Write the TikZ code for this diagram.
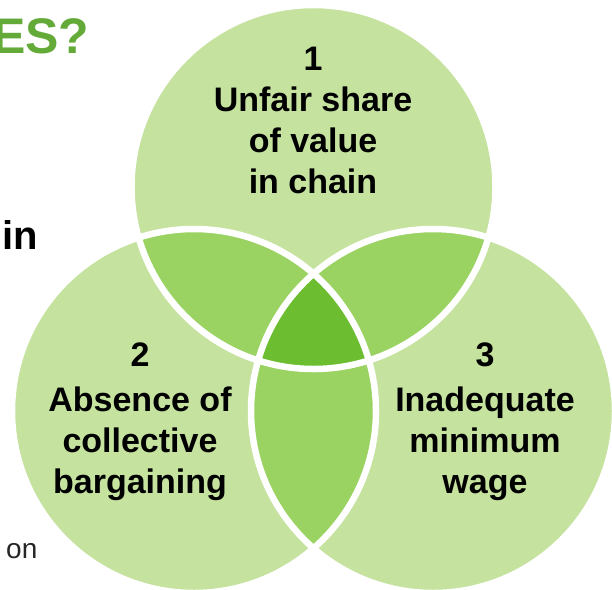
\documentclass[tikz,border=0pt]{standalone}
\usepackage{fontspec}
\setmainfont{Liberation Sans}
\definecolor{lightgreen}{HTML}{C5E29F}
\definecolor{midgreen}{HTML}{9BD363}
\definecolor{darkgreen}{HTML}{6CBE30}
\definecolor{titlegreen}{HTML}{64AA38}
\definecolor{textgray}{HTML}{262626}
\begin{document}
\begin{tikzpicture}[x=1pt,y=-1pt,
  lbl/.style={font=\bfseries\fontsize{34}{41}\selectfont, inner sep=0pt, anchor=base},
  rim/.style={draw=white, line width=6.5pt}]
\useasboundingbox (0,0) rectangle (612,589);
\coordinate (cA) at (313.5,187);
\coordinate (cB) at (194,411);
\coordinate (cC) at (433,411);
% base fills
\fill[lightgreen] (cA) circle[radius=182pt];
\fill[lightgreen] (cB) circle[radius=182pt];
\fill[lightgreen] (cC) circle[radius=182pt];
% pairwise overlaps
\begin{scope}
  \clip (cA) circle[radius=182pt];
  \fill[midgreen] (cB) circle[radius=182pt];
  \fill[midgreen] (cC) circle[radius=182pt];
\end{scope}
\begin{scope}
  \clip (cB) circle[radius=182pt];
  \fill[midgreen] (cC) circle[radius=182pt];
\end{scope}
% triple overlap
\begin{scope}
  \clip (cA) circle[radius=182pt];
  \clip (cB) circle[radius=182pt];
  \fill[darkgreen] (cC) circle[radius=182pt];
\end{scope}
% white outlines
\draw[rim] (cA) circle[radius=182pt];
\draw[rim] (cB) circle[radius=182pt];
\draw[rim] (cC) circle[radius=182pt];
% circle 1 text
\node[lbl] (a1) at (313,70) {1};
\node[lbl] (a2) at (313,111) {Unfair share};
\node[lbl] (a3) at (313,152) {of value};
\node[lbl] (a4) at (313,193) {in chain};
% circle 2 text
\node[lbl] (b1) at (140,366) {2};
\node[lbl] (b2) at (140,411) {Absence of};
\node[lbl] (b3) at (140,452) {collective};
\node[lbl] (b4) at (140,493) {bargaining};
% circle 3 text
\node[lbl] (c1) at (485,366) {3};
\node[lbl] (c2) at (485,411) {Inadequate};
\node[lbl] (c3) at (485,452) {minimum};
\node[lbl] (c4) at (485,493) {wage};
% partial texts at left
\node[anchor=base west, inner sep=0pt, font=\bfseries\fontsize{50}{60}\selectfont, text=titlegreen] (title) at (-8,53) {ES?};
\node[anchor=base west, inner sep=0pt, font=\bfseries\fontsize{40}{48}\selectfont] (inw) at (2,249) {in};
\node[anchor=base west, inner sep=0pt, font=\fontsize{28}{34}\selectfont, text=textgray] (onw) at (6,558) {on};
\end{tikzpicture}
\end{document}
